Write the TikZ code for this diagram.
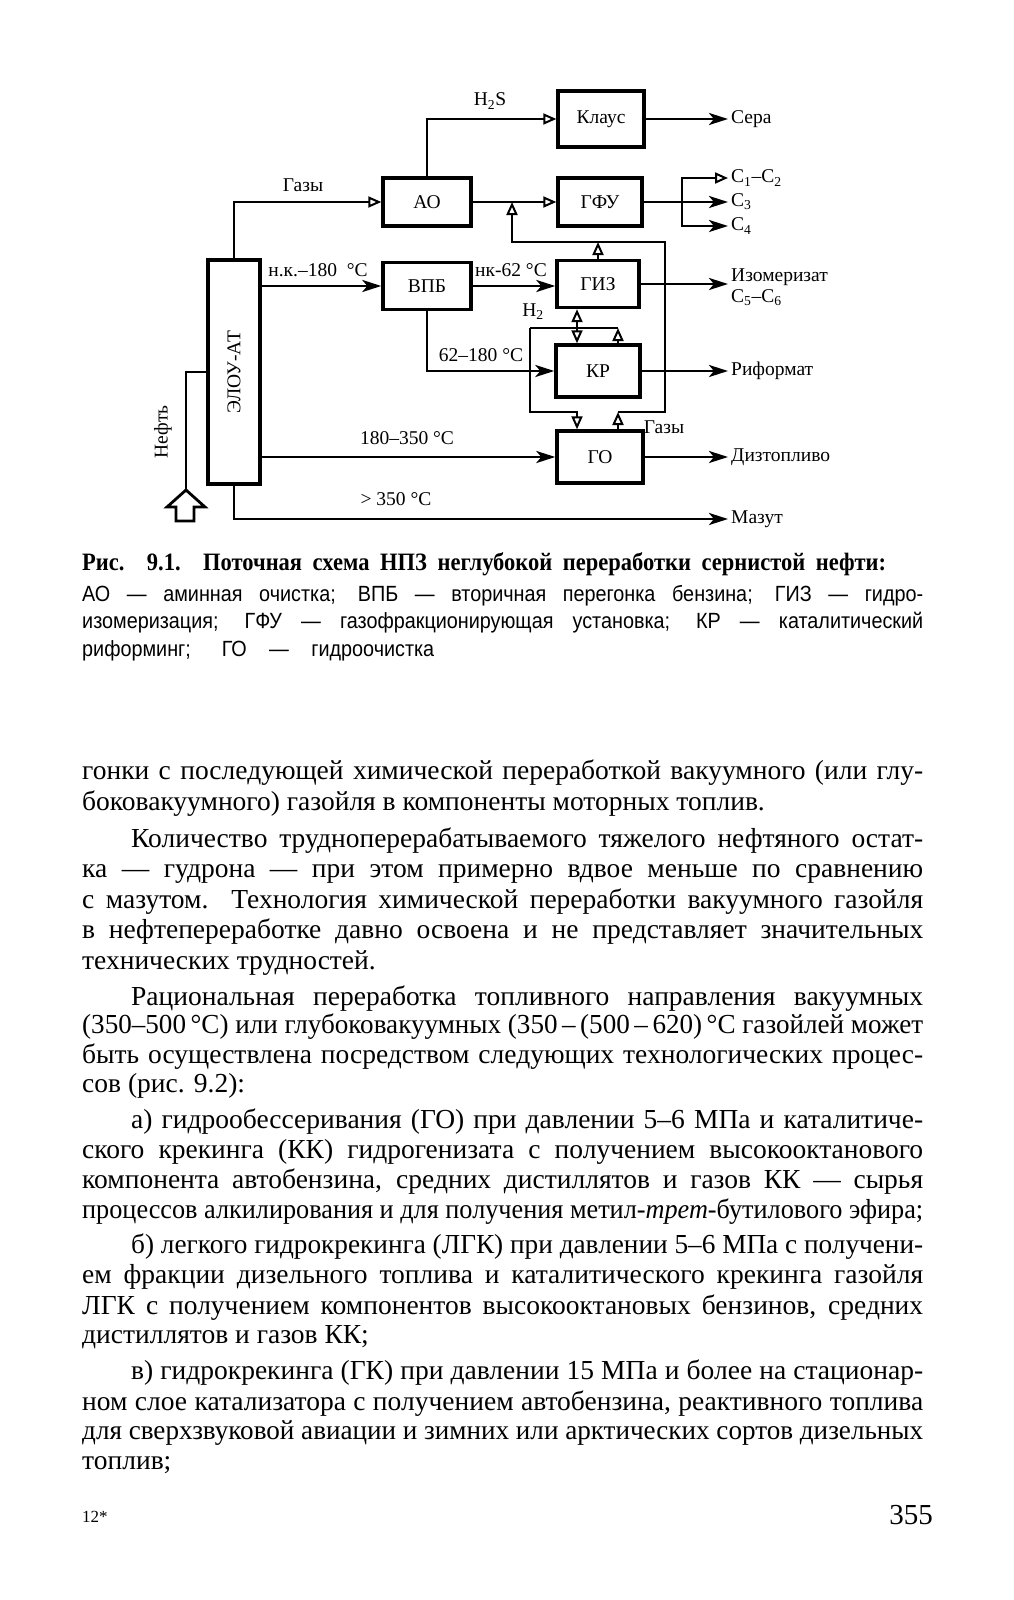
\documentclass[tikz,border=0pt]{standalone}
\usepackage{fontspec}
\setmainfont{Liberation Serif}
\setsansfont{Liberation Sans}
\newfontfamily\legendfont{Liberation Sans}[FakeStretch=0.9]
\newfontfamily\titlefont{Liberation Serif}[FakeStretch=0.9]
\usetikzlibrary{arrows.meta, positioning, calc}
\newsavebox\bodylinebox
\newcommand\fitline[2]{\sbox\bodylinebox{#2}%
  \ifdim\wd\bodylinebox>#1\resizebox{#1}{\height}{\usebox\bodylinebox}%
  \else\makebox[#1][s]{#2}\fi}

\begin{document}
\begin{tikzpicture}[x=1pt, y=-1pt,
  every node/.style={font=\fontsize{19.5}{21}\selectfont, inner sep=2pt},
  procbox/.style={draw, line width=3.4pt, minimum width=86pt, minimum height=50pt,
                  inner sep=0pt},
  pipe/.style={line width=2.8pt},
  flow/.style={pipe, -{Stealth[length=19pt, width=12pt, inset=5pt]}},
  gasflow/.style={pipe, -{Triangle[open, length=13pt, width=11pt, line width=2pt]}},
  outlbl/.style={anchor=west, inner sep=3pt},
  capline/.style={anchor=base west, inner sep=0pt,
                  font=\legendfont\fontsize{22}{27}\selectfont},
  textline/.style={anchor=base west, inner sep=0pt,
                   font=\fontsize{27.5}{30}\selectfont},
]
  \fill[white] (0,0) rectangle (1014,1600);
  \useasboundingbox (0,0) rectangle (1014,1600);

  \node[procbox, minimum width=52pt, minimum height=224pt] (elou) at (234,372)
    {\rotatebox{90}{ЭЛОУ-АТ}};
  \node[procbox, minimum width=88pt, minimum height=48pt] (ao) at (427,202) {АО};
  \node[procbox, minimum width=86pt, minimum height=56pt] (klaus) at (601,119) {Клаус};
  \node[procbox, minimum width=84pt, minimum height=48pt] (gfu) at (600,202) {ГФУ};
  \node[procbox, minimum width=88pt, minimum height=47pt] (vpb) at (427,286) {ВПБ};
  \node[procbox, minimum width=82pt, minimum height=47pt] (giz) at (598,284) {ГИЗ};
  \node[procbox, minimum width=84pt, minimum height=52pt] (kr) at (598,371) {КР};
  \node[procbox, minimum width=86pt, minimum height=52pt] (go) at (600,457) {ГО};

  \node[outlbl] (sera) at (728,119) {Сера};
  \node[outlbl] (c12) at (728,178) {C\textsubscript{1}–C\textsubscript{2}};
  \node[outlbl] (c3) at (728,202) {C\textsubscript{3}};
  \node[outlbl] (c4) at (728,226) {C\textsubscript{4}};
  \node[outlbl, align=left] (izo) at (728,287) {Изомеризат\\C\textsubscript{5}–C\textsubscript{6}};
  \node[outlbl] (rif) at (728,371) {Риформат};
  \node[outlbl] (diz) at (728,457) {Дизтопливо};
  \node[outlbl] (mazut) at (728,519) {Мазут};

  \node (gases1) at (303,185) {Газы};
  \node (h2s) at (490,101) {H\textsubscript{2}S};
  \node (nk180) at (318,270) {н.к.–180~~°С};
  \node (nk62) at (511,270) {нк-62 °С};
  \node (t62) at (481,355) {62–180 °С};
  \node (t180) at (407,438) {180–350 °С};
  \node (t350) at (396,499) {> 350 °С};
  \node (h2) at (533,312) {H\textsubscript{2}};
  \node (gases2) at (664,427) {Газы};
  \node[rotate=90] (neft) at (163,432) {Нефть};

  \draw[gasflow] (elou.north) |- (ao.west);
  \draw[gasflow] (ao.north) |- (klaus.west);
  \draw[flow] (klaus.east) -- (sera.west);
  \draw[gasflow] (ao.east) -- (gfu.west);
  \coordinate (split) at (682,202);
  \draw[flow] (gfu.east) -- (c3.west);
  \draw[gasflow] (split) |- (c12.west);
  \draw[flow] (split) |- (c4.west);

  \draw[flow] (elou.east |- vpb.west) -- (vpb.west);
  \draw[flow] (vpb.east) -- (vpb.east -| giz.west);
  \draw[flow] (giz.east) -- (giz.east -| izo.west);
  \draw[flow] (vpb.south) |- (kr.west);
  \draw[flow] (kr.east) -- (rif.west);
  \draw[flow] (elou.east |- go.west) -- (go.west);
  \draw[flow] (go.east) -- (diz.west);
  \draw[flow] (elou.south) |- (mazut.west);

  \coordinate (feed) at (186,490);
  \draw[pipe] (feed) |- (elou.west);
  \draw[pipe, line join=miter] (feed) -- ++(19,17) -- ++(-11,0) -- ++(0,14)
    -- ++(-18,0) -- ++(0,-14) -- ++(-9,0) -- cycle;

  \coordinate (h2r) at (618,328);
  \coordinate (h2l) at (530,328);
  \coordinate (h2m) at (577,328);
  \coordinate (h2go) at (577,412);
  \draw[gasflow] (kr.north -| h2r) -- (h2r);
  \draw[pipe] (h2r) -- (h2l);
  \draw[gasflow] (h2m) -- (h2m |- giz.south);
  \draw[gasflow] (h2m) -- (h2m |- kr.north);
  \draw[gasflow] (h2l) |- (h2go) -- (h2go |- go.north);

  \coordinate (gt) at (665,242);
  \coordinate (gl) at (512,242);
  \draw[gasflow] (go.north -| h2r) -- (h2r |- h2go);
  \draw[gasflow] (h2r |- h2go) -| (gt) -| (gl |- ao.east);
  \draw[gasflow] (giz.north) -- (giz.north |- gt);

  \node[anchor=base west, inner sep=0pt, font=\titlefont\bfseries\fontsize{25}{26}\selectfont] (cap1) at (82,570)
    {\makebox[804pt][s]{Рис. 9.1. Поточная схема НПЗ неглубокой переработки сернистой нефти:}};
  \node[capline] (cap2) at (82,601)
    {\makebox[841pt][s]{АО — аминная очистка; ВПБ — вторичная перегонка бензина; ГИЗ — гидро-}};
  \node[capline] (cap3) at (82,628)
    {\makebox[841pt][s]{изомеризация; ГФУ — газофракционирующая установка; КР — каталитический}};
  \node[capline] (cap4) at (82,656)
    {\makebox[352pt][s]{риформинг; ГО — гидроочистка}};

  \node[textline] (b1) at (82,779)
    {\fitline{841pt}{гонки с последующей химической переработкой вакуумного (или глу-}};
  \node[textline] (b2) at (82,810) {боковакуумного) газойля в компоненты моторных топлив.};
  \node[textline] (b3) at (131,847)
    {\fitline{792pt}{Количество трудноперерабатываемого тяжелого нефтяного остат-}};
  \node[textline] (b4) at (82,877)
    {\fitline{841pt}{ка — гудрона — при этом примерно вдвое меньше по сравнению}};
  \node[textline] (b5) at (82,908)
    {\fitline{841pt}{с мазутом. Технология химической переработки вакуумного газойля}};
  \node[textline] (b6) at (82,938)
    {\fitline{841pt}{в нефтепереработке давно освоена и не представляет значительных}};
  \node[textline] (b7) at (82,969) {технических трудностей.};
  \node[textline] (b8) at (131,1005)
    {\fitline{792pt}{Рациональная переработка топливного направления вакуумных}};
  \node[textline] (b9) at (82,1033)
    {\fitline{841pt}{(350–500\,°С) или глубоковакуумных (350\,–\,(500\,–\,620)\,°С газойлей может}};
  \node[textline] (b10) at (82,1063)
    {\fitline{841pt}{быть осуществлена посредством следующих технологических процес-}};
  \node[textline] (b11) at (82,1092) {сов (рис. 9.2):};
  \node[textline] (b12) at (131,1128)
    {\fitline{792pt}{а) гидрообессеривания (ГО) при давлении 5–6 МПа и каталитиче-}};
  \node[textline] (b13) at (82,1158)
    {\fitline{841pt}{ского крекинга (КК) гидрогенизата с получением высокооктанового}};
  \node[textline] (b14) at (82,1188)
    {\fitline{841pt}{компонента автобензина, средних дистиллятов и газов КК — сырья}};
  \node[textline] (b15) at (82,1218)
    {\fitline{841pt}{процессов алкилирования и для получения метил-\textit{трет}-бутилового эфира;}};
  \node[textline] (b16) at (131,1253)
    {\fitline{792pt}{б) легкого гидрокрекинга (ЛГК) при давлении 5–6 МПа с получени-}};
  \node[textline] (b17) at (82,1283)
    {\fitline{841pt}{ем фракции дизельного топлива и каталитического крекинга газойля}};
  \node[textline] (b18) at (82,1314)
    {\fitline{841pt}{ЛГК с получением компонентов высокооктановых бензинов, средних}};
  \node[textline] (b19) at (82,1343) {дистиллятов и газов КК;};
  \node[textline] (b20) at (131,1379)
    {\fitline{792pt}{в) гидрокрекинга (ГК) при давлении 15 МПа и более на стационар-}};
  \node[textline] (b21) at (82,1410)
    {\fitline{841pt}{ном слое катализатора с получением автобензина, реактивного топлива}};
  \node[textline] (b22) at (82,1439)
    {\fitline{841pt}{для сверхзвуковой авиации и зимних или арктических сортов дизельных}};
  \node[textline] (b23) at (82,1469) {топлив;};

  \node[anchor=base west, inner sep=0pt, font=\fontsize{17}{18}\selectfont] (sig) at (82,1522) {12*};
  \node[anchor=base east, inner sep=0pt, font=\fontsize{29}{30}\selectfont] (pageno) at (933,1524) {355};
\end{tikzpicture}
\end{document}
